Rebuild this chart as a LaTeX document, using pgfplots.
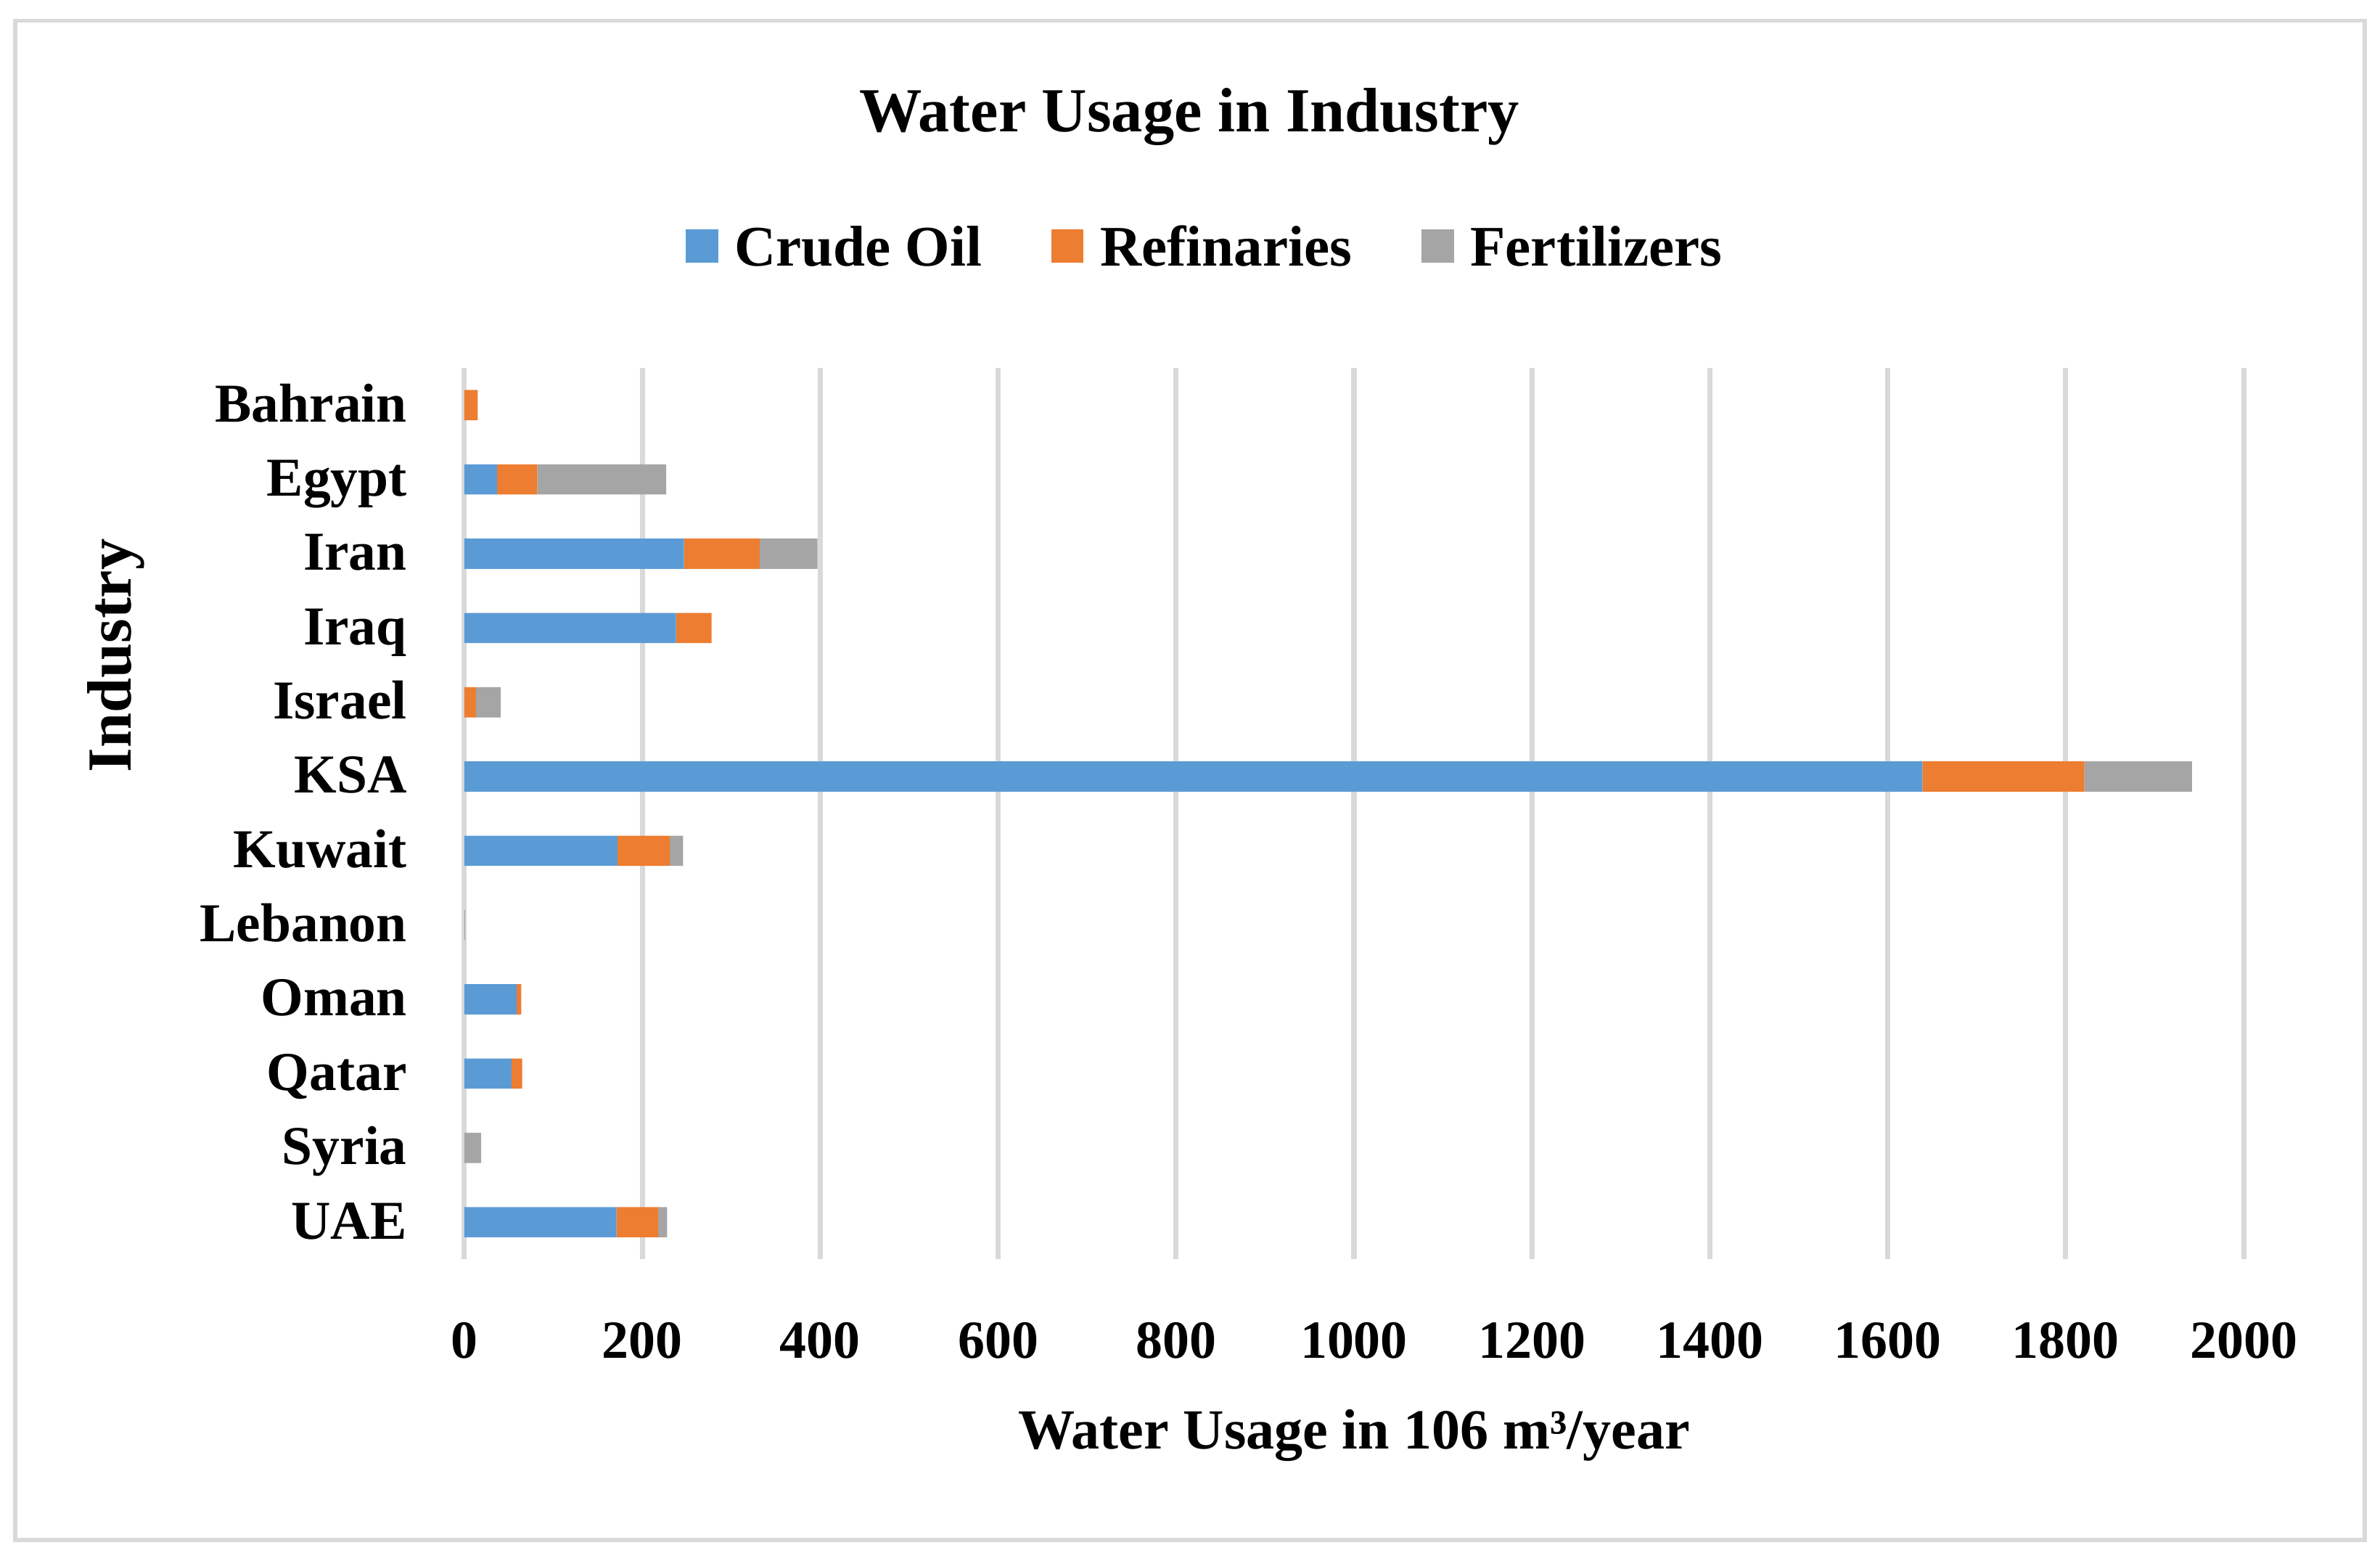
\documentclass[border=0pt]{standalone}
\usepackage{fontspec}
\setmainfont{Liberation Serif}
\usepackage{pgfplots}
\pgfplotsset{compat=1.18}
\definecolor{cblue}{HTML}{5B9BD5}
\definecolor{corange}{HTML}{ED7D31}
\definecolor{cgray}{HTML}{A5A5A5}
\definecolor{cgrid}{HTML}{D9D9D9}
\pgfplotsset{sqlegend/.style={legend image code/.code={\fill[##1] (0bp,-3.75bp) rectangle (8.5bp,5.05bp);}}}
\begin{document}
\begin{tikzpicture}
\useasboundingbox (0,0) rectangle (630bp,-413bp);
\draw[cgrid, line width=1.1bp] (4bp,-5.5bp) rectangle (626bp,-407.6bp);
\node[anchor=base, inner sep=0pt, font=\fontsize{16.6bp}{20bp}\selectfont\bfseries] at (314.8bp,-34.9bp) {Water Usage in Industry};
\node[anchor=base, rotate=90, inner sep=0pt, font=\fontsize{16.6bp}{20bp}\selectfont\bfseries] at (34.6bp,-173.5bp) {Industry};
\begin{axis}[
  at={(122.9bp,-333.3bp)}, anchor=south west,
  scale only axis, width=471bp, height=235.9bp,
  xbar stacked, bar width=8bp,
  xmin=0, xmax=2000, ymin=-0.5, ymax=11.5,
  xtick={0,200,...,2000},
  ytick={0,...,11},
  yticklabels={UAE,Syria,Qatar,Oman,Lebanon,Kuwait,KSA,Israel,Iraq,Iran,Egypt,Bahrain},
  xmajorgrids, ymajorgrids=false,
  grid style={cgrid, line width=1.37bp},
  axis line style={draw=none},
  major tick length=0pt,
  scaled x ticks=false,
  /pgf/number format/1000 sep={},
  /pgf/number format/assume math mode=true,
  xticklabel style={anchor=base, inner sep=0pt, yshift=-26.2bp, font=\fontsize{14.2bp}{17bp}\selectfont\bfseries},
  yticklabel style={anchor=base east, inner sep=0pt, xshift=-15bp, yshift=-4.4bp, font=\fontsize{14.5bp}{17bp}\selectfont\bfseries},
  xlabel={Water Usage in 106 m³/year},
  xlabel style={at={(axis description cs:0.5,0)}, anchor=base, inner sep=0pt, yshift=-50.2bp, font=\fontsize{15bp}{18bp}\selectfont\bfseries},
  legend columns=3,
  legend style={at={(axis description cs:0.1246,1.1081)}, anchor=south west, draw=none, fill=none, inner sep=0pt, outer sep=0pt,
    font=\fontsize{15.2bp}{18bp}\selectfont\bfseries,
    nodes={inner sep=0pt},
    /tikz/every odd column/.append style={column sep=4.4bp},
    /tikz/every even column/.append style={column sep=18.4bp}},
]
\addplot[fill=cblue, draw=none, sqlegend] coordinates {(171,0) (0,1) (53,2) (59,3) (0,4) (172,5) (1639,6) (0,7) (238,8) (247,9) (37,10) (0,11)};
\addplot[fill=corange, draw=none, sqlegend] coordinates {(47,0) (0,1) (12,2) (5,3) (0,4) (59,5) (182,6) (13,7) (40,8) (85,9) (45,10) (15,11)};
\addplot[fill=cgray, draw=none, sqlegend] coordinates {(10,0) (19,1) (0,2) (0,3) (1,4) (15,5) (121,6) (28,7) (0,8) (65,9) (145,10) (0,11)};
\legend{Crude Oil, Refinaries, Fertilizers}
\end{axis}
\end{tikzpicture}
\end{document}
